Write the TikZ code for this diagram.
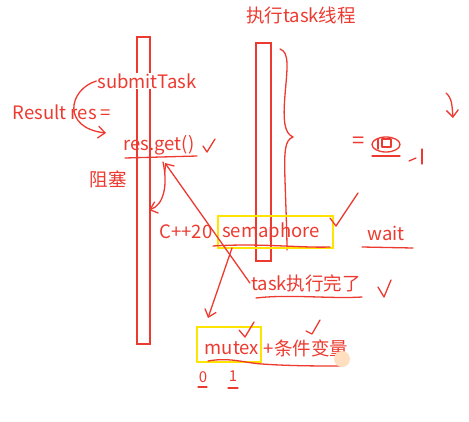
\documentclass[tikz,border=0pt]{standalone}
\usepackage{fontspec}
\setmainfont{Noto Sans CJK SC}
\usetikzlibrary{arrows.meta}
\definecolor{pen}{RGB}{236,58,48}
\definecolor{hl}{RGB}{255,228,0}
\tikzset{
  txt/.style={text=pen, font=\fontsize{18.5}{21}\selectfont, inner sep=1pt},
  ink/.style={draw=pen, line width=1.3pt, line cap=round, line join=round},
  bar/.style={draw=pen, line width=1.6pt},
  hlbox/.style={draw=hl, line width=1.6pt, inner sep=0pt},
  barb/.style={-{Straight Barb[length=7pt,width=12pt]}}
}
\begin{document}
\begin{tikzpicture}[x=1pt,y=-1pt]
\useasboundingbox (0,0) rectangle (469,421);
% threads
\draw[bar] (137,37) rectangle (150,344);
\draw[bar] (256,43) rectangle (271,261);
\node[txt] (title) at (301,15) {执行task线程};
% brace
\draw[ink] (280,49) .. controls (290,52) and (287,70) .. (285,95)
  .. controls (283,120) and (284,133) .. (293,137)
  .. controls (285,140) and (284,150) .. (285,180)
  .. controls (286,210) and (287,235) .. (287,250);
% left side
\node[txt, fill=white] (submit) at (147,81) {submitTask};
\node[txt] (result) at (62,112) {Result res =};
\node[txt] (get) at (159,145) {res.get()};
\node[txt] (block) at (108,179) {阻塞};
\draw[ink] (125,158) -- (197,156);
\draw[ink] (203,146) -- (207,152) -- (215,139);
\draw[ink,barb] (submit.west) .. controls (68,90) and (62,128) .. (106,133);
\draw[ink,barb] (163,162) .. controls (168,185) and (164,205) .. (149,210);
% semaphore
\node[txt] (cpp) at (186,232) {C++20};
\node[hlbox, minimum width=115pt, minimum height=32pt] (semabox) at (275.5,232) {};
\node[txt] (sema) at (271,232) {semaphore};
\draw[ink] (213,246) .. controls (260,243) and (300,248) .. (330,247);
\draw[ink] (330,218) -- (336,226) -- (358,193);
\node[txt, font=\fontsize{18.5}{21}\selectfont\itshape] (wait) at (386,233) {wait};
\draw[ink] (362,247) -- (413,248);
% zero symbol
\node[txt, font=\fontsize{22}{24}\selectfont] (eq) at (359,143) {=};
\draw[ink] (386,144.5) ellipse [x radius=14, y radius=7.5];
\draw[ink] (382,139) rectangle (391,147);
\draw[ink] (378,139) -- (378,149);
\draw[ink] (372,156) -- (400,156);
\draw[ink] (409,161) -- (416,158);
\draw[ink] (422,149) -- (422,164);
\draw[ink,barb] (446,93) .. controls (452,98) and (452,105) .. (453,118);
% task done
\node[txt] (done) at (306,283) {task执行完了};
\draw[ink] (256,298) .. controls (290,294) and (330,299) .. (362,297);
\draw[ink] (378,287) -- (384,297) -- (391,280);
\draw[ink,barb] (done.west) -- (165,163);
\draw[ink,barb] (232,248) -- (208,318);
% mutex
\node[hlbox, minimum width=64pt, minimum height=35pt] (mutexbox) at (229,344.5) {};
\node[txt] (mutex) at (232,348) {mutex};
\node[txt] (cond) at (306,348) {+条件变量};
\draw[ink] (208,361) .. controls (230,357) and (245,363) .. (262,364) .. controls (290,366) and (320,366) .. (340,366);
\draw[ink] (239,330) -- (245,337) -- (254,322);
\draw[ink] (306,331) -- (312,334) -- (320,320);
\node[txt, font=\fontsize{15}{17}\selectfont] (zero) at (203,377) {0};
\node[txt, font=\fontsize{15}{17}\selectfont] (one) at (233,376) {1};
\draw[ink] (198,387) -- (207,387);
\draw[ink] (228,388) -- (238,388);
\fill[orange!25] (342,359) circle (8);
\end{tikzpicture}
\end{document}
